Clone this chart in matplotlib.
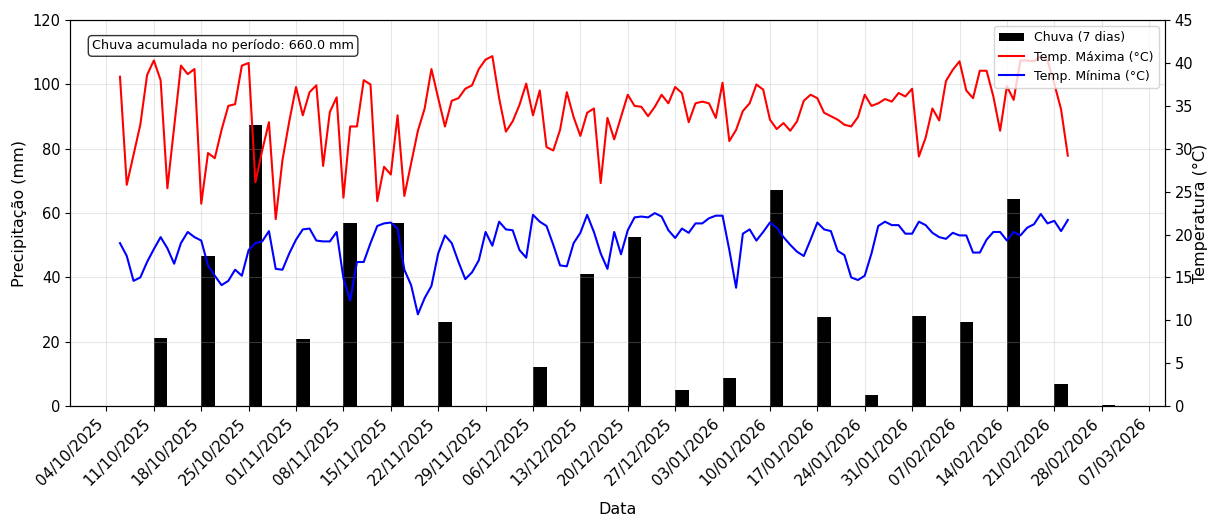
import matplotlib
matplotlib.use("agg")
import matplotlib.pyplot as plt
import matplotlib.dates as mdates
import pandas as pd

# chuva acumulada em 7 dias (mm), uma barra por semana
rain_dates = pd.date_range("2025-10-11", "2026-02-28", freq="7D")
rain_mm = [21.2, 46.8, 87.4, 20.8, 56.8, 56.8, 26.1, 0.0, 12.3, 41.2, 52.6,
           5.0, 8.8, 67.2, 27.7, 3.5, 28.0, 26.3, 64.4, 6.8, 0.3]

# temperaturas diarias (°C)
temp_dates = pd.date_range("2025-10-06", "2026-02-23", freq="D")
tmax = [38.4, 25.8, 29.3, 32.8, 38.6, 40.3, 38.0, 25.4, 32.6, 39.7,
        38.7, 39.3, 23.6, 29.5, 28.9, 32.2, 35.0, 35.2, 39.7, 40.0,
        26.1, 29.8, 33.1, 21.8, 28.7, 33.2, 37.2, 33.9, 36.6, 37.4,
        28.0, 34.3, 36.0, 24.3, 32.6, 32.6, 38.0, 37.5, 23.9, 27.9,
        27.0, 33.9, 24.5, 28.3, 32.1, 34.7, 39.3, 35.9, 32.6, 35.6,
        35.9, 37.0, 37.4, 39.3, 40.4, 40.8, 35.9, 32.0, 33.2, 35.1,
        37.6, 33.9, 36.8, 30.2, 29.8, 32.2, 36.6, 33.7, 31.5, 34.2,
        34.7, 26.0, 33.6, 31.1, 33.7, 36.3, 35.0, 34.9, 33.8, 34.9,
        36.3, 35.3, 37.2, 36.5, 33.1, 35.3, 35.5, 35.3, 33.6, 37.7,
        30.9, 32.2, 34.4, 35.3, 37.5, 36.9, 33.4, 32.3, 33.0, 32.1,
        33.2, 35.6, 36.3, 35.9, 34.2, 33.8, 33.4, 32.8, 32.6, 33.7,
        36.3, 35.0, 35.3, 35.8, 35.5, 36.5, 36.1, 37.0, 29.1, 31.3,
        34.7, 33.3, 37.9, 39.2, 40.2, 36.8, 35.9, 39.1, 39.1, 36.1,
        32.1, 37.3, 35.7, 40.3, 40.3, 40.2, 40.8, 40.3, 37.6, 34.6,
        29.2]
tmin = [19.0, 17.5, 14.6, 15.0, 16.8, 18.3, 19.7, 18.4, 16.6, 19.0,
        20.3, 19.7, 19.3, 16.4, 15.2, 14.1, 14.6, 15.9, 15.2, 18.2,
        19.0, 19.2, 20.4, 16.0, 15.9, 17.8, 19.4, 20.6, 20.7, 19.3,
        19.2, 19.2, 20.3, 14.9, 12.3, 16.8, 16.8, 19.0, 21.0, 21.3,
        21.4, 20.7, 15.9, 14.1, 10.7, 12.6, 14.0, 17.8, 19.9, 19.0,
        16.8, 14.8, 15.6, 17.0, 20.3, 18.7, 21.5, 20.6, 20.5, 18.2,
        17.3, 22.3, 21.5, 21.0, 18.8, 16.4, 16.3, 19.0, 20.2, 22.3,
        20.3, 17.8, 16.0, 20.3, 17.7, 20.5, 22.0, 22.1, 22.0, 22.5,
        22.1, 20.5, 19.6, 20.7, 20.2, 21.3, 21.3, 21.9, 22.2, 22.2,
        18.2, 13.8, 20.1, 20.6, 19.3, 20.3, 21.4, 20.8, 19.7, 18.8,
        18.0, 17.5, 19.4, 21.4, 20.6, 20.4, 18.1, 17.6, 15.0, 14.7,
        15.2, 17.8, 21.0, 21.5, 21.1, 21.1, 20.1, 20.1, 21.5, 21.1,
        20.2, 19.7, 19.5, 20.2, 19.9, 19.9, 17.9, 17.9, 19.4, 20.3,
        20.3, 19.3, 20.3, 19.9, 20.8, 21.2, 22.4, 21.3, 21.6, 20.4,
        21.7]

fig, ax1 = plt.subplots(figsize=(12.11, 5.16), dpi=100)
fig.subplots_adjust(left=0.058, right=0.962, top=0.961, bottom=0.213)

ax1.bar(rain_dates, rain_mm, width=2, align="edge", color="black", label="Chuva (7 dias)")
ax1.set_ylabel("Precipitação (mm)", fontsize=11.5)
ax1.set_xlabel("Data", fontsize=11.5, labelpad=10)
ax1.set_ylim(0, 120)
ax1.grid(True, alpha=0.3)

ax2 = ax1.twinx()
ax2.plot(temp_dates, tmax, color="red", linewidth=1.5, label="Temp. Máxima (°C)")
ax2.plot(temp_dates, tmin, color="blue", linewidth=1.5, label="Temp. Mínima (°C)")
ax2.set_ylabel("Temperatura (°C)", fontsize=11.5, labelpad=0)
ax2.set_ylim(0, 45)

ax1.xaxis.set_major_locator(mdates.WeekdayLocator(byweekday=mdates.SA))
ax1.xaxis.set_major_formatter(mdates.DateFormatter("%d/%m/%Y"))
plt.setp(ax1.get_xticklabels(), rotation=45, ha="right", fontsize=11)
ax1.tick_params(axis="y", labelsize=10.5)
ax2.tick_params(axis="y", labelsize=10.5)

total = sum(rain_mm)
ax1.text(0.02, 0.95, f"Chuva acumulada no período: {total:.1f} mm", transform=ax1.transAxes,
         va="top", fontsize=9.2,
         bbox=dict(boxstyle="round", facecolor="white", alpha=0.8))

h1, l1 = ax1.get_legend_handles_labels()
h2, l2 = ax2.get_legend_handles_labels()
ax2.legend(h1 + h2, l1 + l2, loc="upper right", fontsize=9)

plt.savefig("out.png", dpi=100)
